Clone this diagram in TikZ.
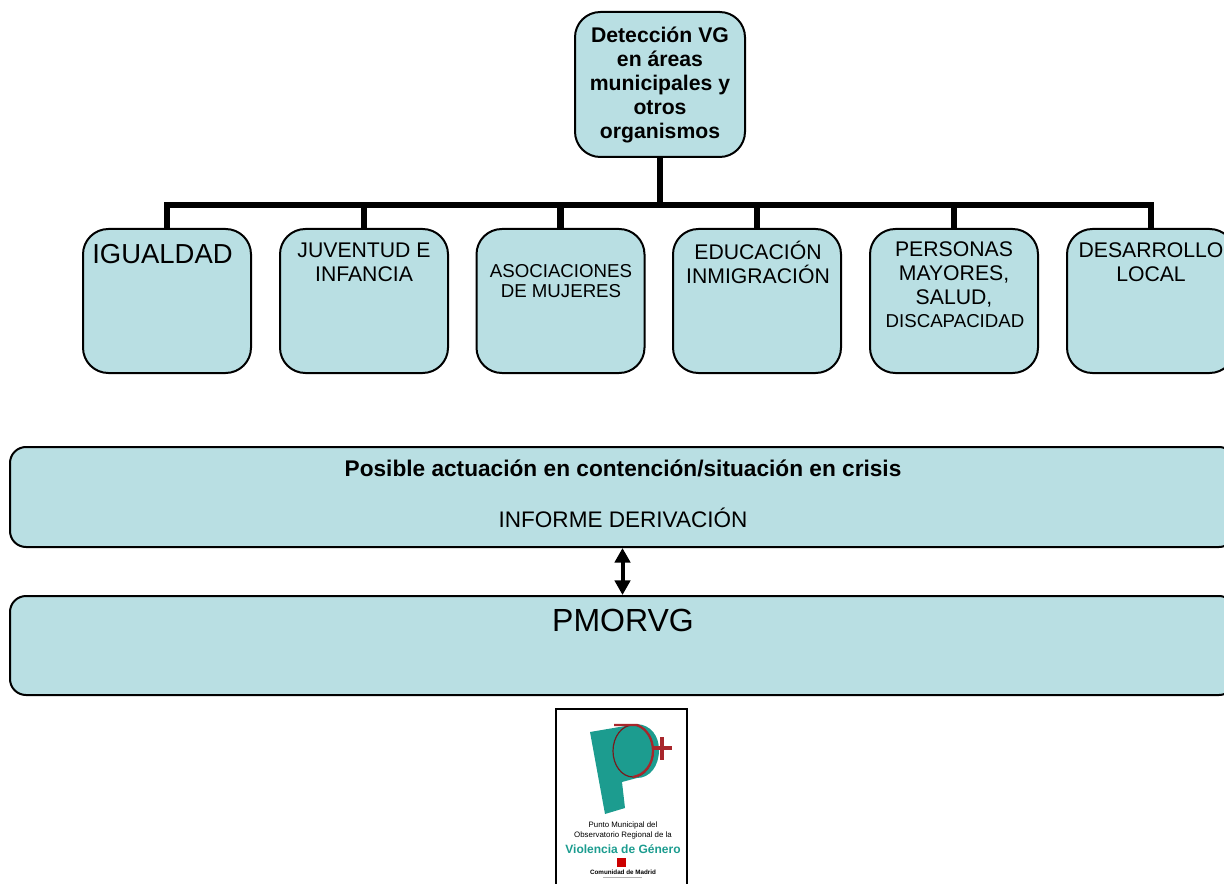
\documentclass[tikz,border=0pt]{standalone}
\usepackage{fontspec}
\setmainfont{Liberation Sans}
\usetikzlibrary{arrows.meta}
\definecolor{boxfill}{HTML}{B9DFE3}
\definecolor{logoteal}{HTML}{1C9C8F}
\definecolor{logored}{HTML}{A8262B}
\tikzset{
    area/.style = {draw, line width = 1.5pt, fill = boxfill, rounded corners = 19pt, minimum width = 168 * 0.75pt, minimum height = 144 * 0.75pt, inner sep = 0pt},
    band/.style = {draw, line width = 1.5pt, fill = boxfill, rounded corners = 12pt, minimum width = 1225 * 0.75pt, inner sep = 0pt},
    label/.style = {inner sep = 0pt, align = center},
    bus/.style = {line width = 4.8pt},
    small/.style = {font = \fontsize{14}{15}\selectfont},
    medium/.style = {font = \fontsize{15.9}{18}\selectfont},
}
\begin{document}
\begin{tikzpicture}[x = 0.75pt, y = -0.75pt]
    \useasboundingbox (0, 0) rectangle (1224, 884);
    \clip (0, 0) rectangle (1224, 884);
    \node [area, minimum width = 170 * 0.75pt, minimum height = 145 * 0.75pt, align = center, font = \fontsize{15.9}{18}\selectfont\bfseries] (detect) at (660, 84.5) {Detección VG\\en áreas\\municipales y\\otros\\organismos};
    \node [area] (igualdad) at (167, 301) {};
    \node [area] (juventud) at (364, 301) {};
    \node [area] (asociaciones) at (560.5, 301) {};
    \node [area] (educacion) at (757, 301) {};
    \node [area] (personas) at (954, 301) {};
    \node [area] (desarrollo) at (1151, 301) {};
    \coordinate (branch) at (660, 205);
    \draw [bus] (detect) -- (branch);
    \foreach \name in {igualdad, juventud, asociaciones, educacion, personas, desarrollo}
        \draw [bus] (branch) -| (\name.north);
    \node [label, font = \fontsize{20.6}{24}\selectfont] (igualdadtext) at (162.5, 254) {IGUALDAD};
    \node [label, medium] (juventudtext) at (364, 262) {JUVENTUD E\\INFANCIA};
    \node [label, small] (asociacionestext) at (561, 281) {ASOCIACIONES\\DE MUJERES};
    \node [label, medium] (educaciontext) at (758, 262) {EDUCACIÓN\\INMIGRACIÓN};
    \node [label, medium] (personastext) at (954, 274) {PERSONAS\\MAYORES,\\SALUD,};
    \node [label, small] (discapacidadtext) at (955, 321) {DISCAPACIDAD};
    \node [label, medium] (desarrollotext) at (1151, 262) {DESARROLLO\\LOCAL};
    \node [band, minimum height = 100 * 0.75pt] (crisis) at (622.5, 497) {};
    \node [band, minimum height = 99 * 0.75pt] (pmorvg) at (622.5, 645.5) {};
    \draw [{Triangle[length = 11pt, width = 11.5pt]}-{Triangle[length = 11pt, width = 11.5pt]}, line width = 3pt] (crisis) -- (pmorvg);
    \node [label, font = \fontsize{17}{18}\selectfont\bfseries] (crisistitle) at (623, 468) {Posible actuación en contención/situación en crisis};
    \node [label, font = \fontsize{16.9}{18}\selectfont] (crisistext) at (623, 518) {INFORME DERIVACIÓN};
    \node [label, font = \fontsize{24}{26}\selectfont] (pmorvgtext) at (623, 620) {PMORVG};
    \draw [line width = 1.5pt] (556, 709) rectangle (687, 895);
    \fill [logoteal] (590, 732) -- (637, 724) .. controls (651, 725) and (659, 736) .. (659, 750) .. controls (659, 766) and (650, 778) .. (637, 778) -- (622, 782) -- (625, 808) -- (605, 814) -- cycle;
    \draw [logored!70!black, line width = 0.9pt] (633, 751) ellipse (20 and 26);
    \draw [logored, line width = 1.7pt] (614, 725) -- (637, 725) .. controls (647, 729) and (653, 739) .. (653, 751) .. controls (653, 764) and (645, 775) .. (633, 777);
    \draw [logored, line width = 2.6pt] (653, 748) -- (672, 748);
    \draw [logored, line width = 2.6pt] (662, 737) -- (662, 760);
    \node [label, font = \fontsize{5.9}{7}\selectfont] (logoline) at (623, 830.5) {Punto Municipal del\\Observatorio Regional de la};
    \node [label, text = logoteal, font = \fontsize{9}{10}\selectfont\bfseries] (logotitle) at (623, 849) {Violencia de Género};
    \fill [red!80!black] (617, 858) rectangle (626, 867);
    \node [label, font = \fontsize{4.7}{5}\selectfont\bfseries] (logomadrid) at (623, 872) {Comunidad de Madrid};
    \draw [gray!60, line width = 0.5pt] (603, 877) -- (642, 877);
\end{tikzpicture}
\end{document}
